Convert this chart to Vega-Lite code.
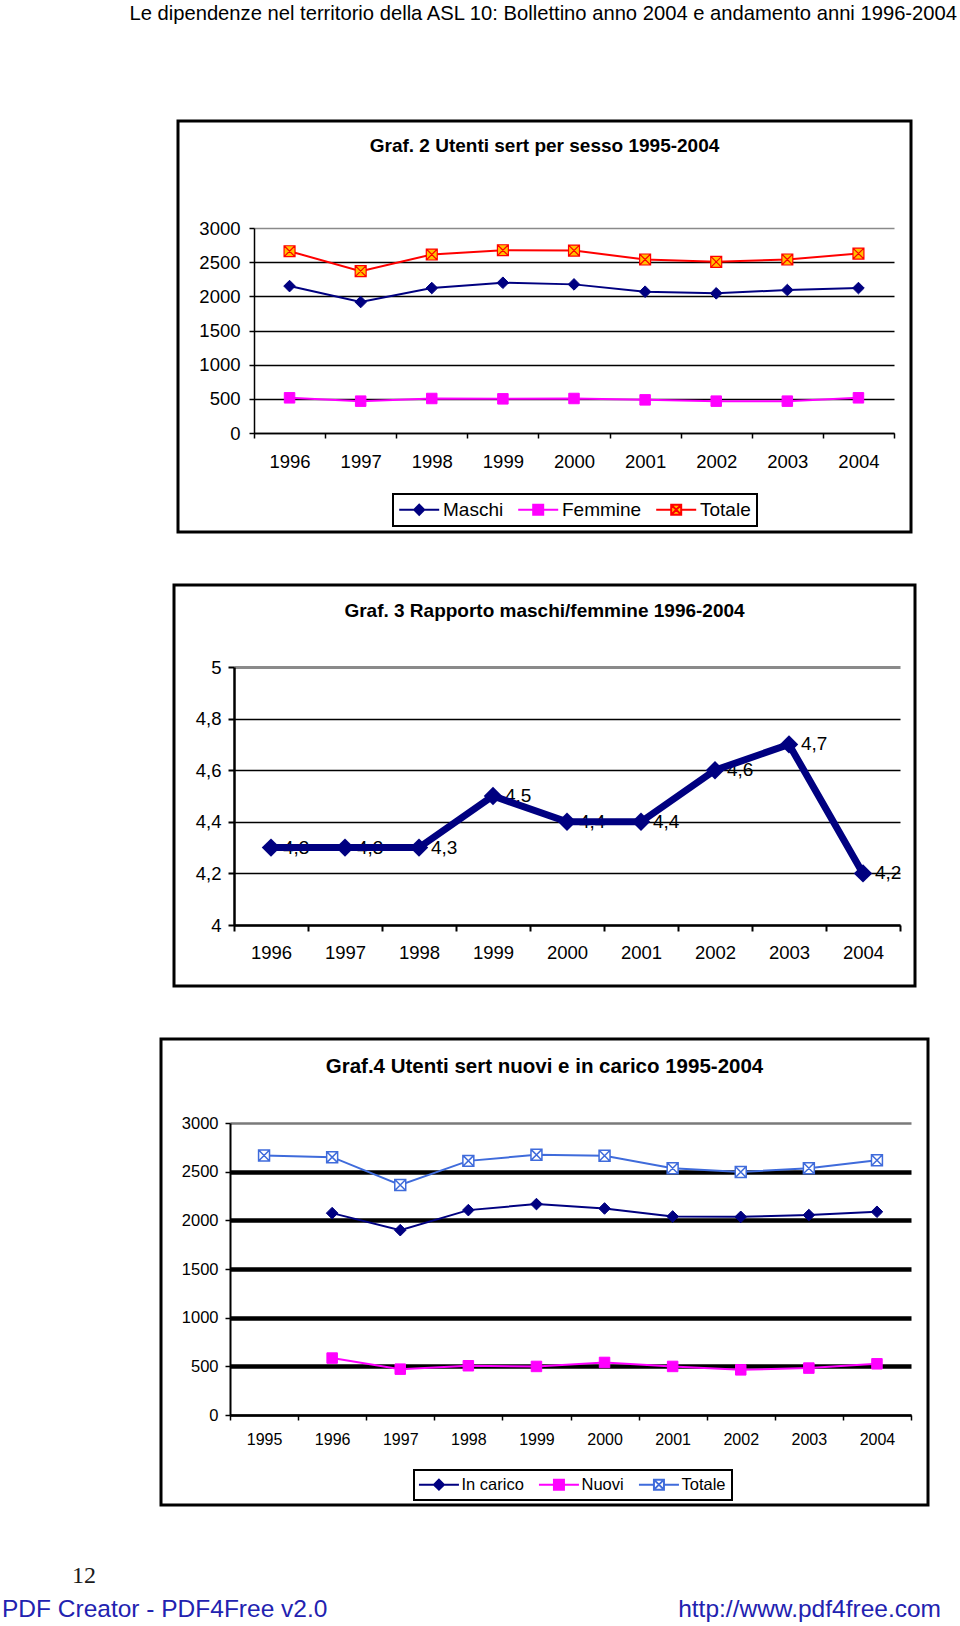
{
  "$schema": "https://vega.github.io/schema/vega-lite/v6.json",
  "autosize": {"type": "pad"},
  "padding": {"left": 2, "top": 0, "right": 0, "bottom": 0},
  "background": "white",
  "bounds": "flush",
  "center": true,
  "spacing": 53,
  "resolve": {"scale": {"stroke": "independent", "fill": "independent", "shape": "independent"}},
  "config": {
    "font": "Liberation Sans",
    "locale": {"number": {"decimal": ",", "thousands": ".", "grouping": [3], "currency": ["€", ""]}},
    "view": {"stroke": "black", "strokeWidth": 3},
    "title": {"fontWeight": "bold", "color": "black", "anchor": "middle", "font": "Liberation Sans"},
    "axis": {"domainColor": "black", "tickColor": "black", "labelColor": "black", "labelFont": "Liberation Sans", "labelAngle": 0},
    "legend": {"orient": "none", "direction": "horizontal", "columns": 3, "strokeColor": "black", "strokeWidth": 2, "fillColor": "white", "padding": 6, "symbolSize": 100, "symbolStrokeWidth": 2, "labelOffset": 25, "columnPadding": 10, "labelColor": "black", "labelFont": "Liberation Sans", "symbolOpacity": 1}
  },
  "vconcat": [
    {
      "width": 767, "height": 68,
      "view": {"stroke": null},
      "data": {"values": [{"testo": "Le dipendenze nel territorio della ASL 10: Bollettino anno 2004 e andamento anni 1996-2004", "lato": "destra", "riga": "intestazione"}]},
      "mark": {"type": "text", "align": "right", "baseline": "middle", "dx": 29, "dy": -3, "fontSize": 20.2, "color": "black"},
      "encoding": {
        "x": {"field": "lato", "type": "nominal", "scale": {"type": "point", "domain": ["sinistra", "destra"], "padding": 0}, "axis": null},
        "y": {"field": "riga", "type": "nominal", "scale": {"type": "point", "domain": ["intestazione", "spazio"], "padding": 0.5}, "axis": null},
        "text": {"field": "testo", "type": "nominal"}
      }
    },
    {
      "width": 733, "height": 411,
      "title": {"text": "Graf. 2 Utenti sert per sesso 1995-2004", "fontSize": 19, "offset": -35},
      "data": {"values": [
        {"anno": "1996", "serie": "Maschi", "valore": 2150},
        {"anno": "1997", "serie": "Maschi", "valore": 1917},
        {"anno": "1998", "serie": "Maschi", "valore": 2121},
        {"anno": "1999", "serie": "Maschi", "valore": 2199},
        {"anno": "2000", "serie": "Maschi", "valore": 2175},
        {"anno": "2001", "serie": "Maschi", "valore": 2068},
        {"anno": "2002", "serie": "Maschi", "valore": 2044},
        {"anno": "2003", "serie": "Maschi", "valore": 2092},
        {"anno": "2004", "serie": "Maschi", "valore": 2121},
        {"anno": "1996", "serie": "Femmine", "valore": 515},
        {"anno": "1997", "serie": "Femmine", "valore": 466},
        {"anno": "1998", "serie": "Femmine", "valore": 505},
        {"anno": "1999", "serie": "Femmine", "valore": 500},
        {"anno": "2000", "serie": "Femmine", "valore": 505},
        {"anno": "2001", "serie": "Femmine", "valore": 485},
        {"anno": "2002", "serie": "Femmine", "valore": 466},
        {"anno": "2003", "serie": "Femmine", "valore": 466},
        {"anno": "2004", "serie": "Femmine", "valore": 515},
        {"anno": "1996", "serie": "Totale", "valore": 2660},
        {"anno": "1997", "serie": "Totale", "valore": 2369},
        {"anno": "1998", "serie": "Totale", "valore": 2612},
        {"anno": "1999", "serie": "Totale", "valore": 2675},
        {"anno": "2000", "serie": "Totale", "valore": 2670},
        {"anno": "2001", "serie": "Totale", "valore": 2539},
        {"anno": "2002", "serie": "Totale", "valore": 2505},
        {"anno": "2003", "serie": "Totale", "valore": 2539},
        {"anno": "2004", "serie": "Totale", "valore": 2626}
      ]},
      "encoding": {
        "x": {"field": "anno", "type": "ordinal",
          "scale": {"type": "band", "range": [76, 716], "paddingInner": 0, "paddingOuter": 0},
          "axis": {"title": null, "offset": -99, "tickBand": "extent", "tickSize": 5, "tickWidth": 1.5, "domainWidth": 1.5, "labelPadding": 14, "labelFontSize": 18.5}},
        "y": {"field": "valore", "type": "quantitative",
          "scale": {"domain": [0, 3000], "range": [312, 107], "nice": false},
          "axis": {"title": null, "offset": -76, "values": [0, 500, 1000, 1500, 2000, 2500, 3000], "format": "d", "tickSize": 5, "tickWidth": 1.5, "domainWidth": 1.5, "labelPadding": 9, "labelFontSize": 18.5, "grid": true,
            "gridColor": {"condition": {"test": "datum.value === 3000", "value": "#8a8a8a"}, "value": "black"}, "gridWidth": 1.5}}
      },
      "layer": [
        {"mark": {"type": "line", "strokeWidth": 2},
          "encoding": {"stroke": {"field": "serie", "type": "nominal",
            "scale": {"domain": ["Maschi", "Femmine", "Totale"], "range": ["#000080", "#FF00FF", "#FF0000"]},
            "legend": {"title": null, "legendX": 215, "legendY": 373, "labelFontSize": 19}}}},
        {"mark": {"type": "point", "filled": true, "opacity": 0},
          "encoding": {
            "stroke": {"field": "serie", "type": "nominal",
              "scale": {"domain": ["Maschi", "Femmine", "Totale"], "range": ["#000080", "#FF00FF", "#FF0000"]},
              "legend": {"title": null, "legendX": 215, "legendY": 373, "labelFontSize": 19}},
            "fill": {"field": "serie", "type": "nominal",
              "scale": {"domain": ["Maschi", "Femmine", "Totale"], "range": ["#000080", "#FF00FF", "#FFC000"]},
              "legend": {"title": null, "legendX": 215, "legendY": 373, "labelFontSize": 19}},
            "shape": {"field": "serie", "type": "nominal",
              "scale": {"domain": ["Maschi", "Femmine", "Totale"], "range": [
                "M-1.86,0H1.14M3.14,0H6.14M2.14,-1L3.14,0L2.14,1L1.14,0Z",
                "M-1.86,0H1.14M3.14,0H6.14M1.14,-1H3.14V1H1.14Z",
                "M-1.86,0H1.14M3.14,0H6.14M1.14,-1H3.14V1H1.14ZM1.14,-1L3.14,1M3.14,-1L1.14,1"]},
              "legend": {"title": null, "legendX": 215, "legendY": 373, "labelFontSize": 19}}
          }},
        {"transform": [{"filter": "datum.serie === 'Maschi'"}],
          "mark": {"type": "point", "shape": "diamond", "filled": true, "size": 135, "fill": "#000080", "stroke": "#000080", "strokeWidth": 1, "opacity": 1}},
        {"transform": [{"filter": "datum.serie === 'Femmine'"}],
          "mark": {"type": "point", "shape": "square", "filled": true, "size": 110, "fill": "#FF00FF", "stroke": "#FF00FF", "strokeWidth": 1, "opacity": 1}},
        {"transform": [{"filter": "datum.serie === 'Totale'"}],
          "mark": {"type": "point", "shape": "M-1,-1H1V1H-1ZM-1,-1L1,1M1,-1L-1,1", "filled": true, "size": 120, "fill": "#FFC000", "stroke": "#FF0000", "strokeWidth": 1.2, "opacity": 1}},
        {"data": {"values": [{"anno": "2004"}]},
          "mark": {"type": "rule", "color": "#8a8a8a", "strokeWidth": 2},
          "encoding": {"x": {"field": "anno", "type": "ordinal", "bandPosition": 1}, "y": {"datum": 0}, "y2": {"datum": 3000}}}
      ]
    },
    {
      "width": 741, "height": 401,
      "title": {"text": "Graf. 3 Rapporto maschi/femmine 1996-2004", "fontSize": 19, "offset": -36},
      "data": {"values": [
        {"anno": "1996", "rapporto": 4.3},
        {"anno": "1997", "rapporto": 4.3},
        {"anno": "1998", "rapporto": 4.3},
        {"anno": "1999", "rapporto": 4.5},
        {"anno": "2000", "rapporto": 4.4},
        {"anno": "2001", "rapporto": 4.4},
        {"anno": "2002", "rapporto": 4.6},
        {"anno": "2003", "rapporto": 4.7},
        {"anno": "2004", "rapporto": 4.2}
      ]},
      "encoding": {
        "x": {"field": "anno", "type": "ordinal",
          "scale": {"type": "band", "range": [60, 726], "paddingInner": 0, "paddingOuter": 0},
          "axis": {"title": null, "offset": -61, "tickBand": "extent", "tickSize": 6, "tickWidth": 2, "domainWidth": 2.5, "labelPadding": 12.5, "labelFontSize": 18.5}},
        "y": {"field": "rapporto", "type": "quantitative",
          "scale": {"domain": [4, 5], "range": [340, 82], "nice": false, "zero": false},
          "axis": {"title": null, "offset": -60, "values": [4, 4.2, 4.4, 4.6, 4.8, 5], "format": "~g", "tickSize": 6, "tickWidth": 2, "domainWidth": 2.5, "labelPadding": 7, "labelFontSize": 18.5, "grid": true,
            "gridColor": {"condition": {"test": "datum.value === 5", "value": "#8a8a8a"}, "value": "black"},
            "gridWidth": {"condition": {"test": "datum.value === 5", "value": 3}, "value": 1.5}}}
      },
      "layer": [
        {"mark": {"type": "text", "align": "left", "baseline": "middle", "dx": 12, "fontSize": 19, "color": "black"},
          "encoding": {"text": {"field": "rapporto", "type": "quantitative", "format": ".1f"}}},
        {"mark": {"type": "line", "color": "#000080", "strokeWidth": 7}},
        {"mark": {"type": "point", "shape": "diamond", "filled": true, "size": 340, "color": "#000080", "opacity": 1}},
        {"data": {"values": [{"anno": "2004"}]},
          "mark": {"type": "rule", "color": "#8a8a8a", "strokeWidth": 3},
          "encoding": {"x": {"field": "anno", "type": "ordinal", "bandPosition": 1}, "y": {"datum": 4}, "y2": {"datum": 5}}}
      ]
    },
    {
      "width": 767, "height": 466,
      "title": {"text": "Graf.4 Utenti sert nuovi e in carico 1995-2004", "fontSize": 20.5, "offset": -38},
      "data": {"values": [
        {"anno": "1996", "serie": "In carico", "valore": 2074},
        {"anno": "1997", "serie": "In carico", "valore": 1899},
        {"anno": "1998", "serie": "In carico", "valore": 2105},
        {"anno": "1999", "serie": "In carico", "valore": 2167},
        {"anno": "2000", "serie": "In carico", "valore": 2122},
        {"anno": "2001", "serie": "In carico", "valore": 2040},
        {"anno": "2002", "serie": "In carico", "valore": 2036},
        {"anno": "2003", "serie": "In carico", "valore": 2054},
        {"anno": "2004", "serie": "In carico", "valore": 2088},
        {"anno": "1996", "serie": "Nuovi", "valore": 585},
        {"anno": "1997", "serie": "Nuovi", "valore": 471},
        {"anno": "1998", "serie": "Nuovi", "valore": 506},
        {"anno": "1999", "serie": "Nuovi", "valore": 499},
        {"anno": "2000", "serie": "Nuovi", "valore": 540},
        {"anno": "2001", "serie": "Nuovi", "valore": 499},
        {"anno": "2002", "serie": "Nuovi", "valore": 464},
        {"anno": "2003", "serie": "Nuovi", "valore": 482},
        {"anno": "2004", "serie": "Nuovi", "valore": 526},
        {"anno": "1995", "serie": "Totale", "valore": 2666},
        {"anno": "1996", "serie": "Totale", "valore": 2649},
        {"anno": "1997", "serie": "Totale", "valore": 2363},
        {"anno": "1998", "serie": "Totale", "valore": 2611},
        {"anno": "1999", "serie": "Totale", "valore": 2673},
        {"anno": "2000", "serie": "Totale", "valore": 2663},
        {"anno": "2001", "serie": "Totale", "valore": 2535},
        {"anno": "2002", "serie": "Totale", "valore": 2497},
        {"anno": "2003", "serie": "Totale", "valore": 2535},
        {"anno": "2004", "serie": "Totale", "valore": 2618}
      ]},
      "encoding": {
        "x": {"field": "anno", "type": "ordinal",
          "scale": {"type": "band", "domain": ["1995", "1996", "1997", "1998", "1999", "2000", "2001", "2002", "2003", "2004"], "range": [69, 750], "paddingInner": 0, "paddingOuter": 0},
          "axis": {"title": null, "offset": -90, "tickBand": "extent", "tickSize": 5, "tickWidth": 1.5, "domainWidth": 2, "labelPadding": 11, "labelFontSize": 16}},
        "y": {"field": "valore", "type": "quantitative",
          "scale": {"domain": [0, 3000], "range": [376, 84], "nice": false},
          "axis": {"title": null, "offset": -69, "values": [0, 500, 1000, 1500, 2000, 2500, 3000], "format": "d", "tickSize": 5, "tickWidth": 1.5, "domainWidth": 2, "labelPadding": 7, "labelFontSize": 16.5, "grid": true,
            "gridColor": {"condition": {"test": "datum.value === 3000", "value": "#7a7a7a"}, "value": "black"},
            "gridWidth": {"condition": {"test": "datum.value === 3000 || datum.value === 0", "value": 2.5}, "value": 4.5}}}
      },
      "layer": [
        {"mark": {"type": "line", "strokeWidth": 2},
          "encoding": {"stroke": {"field": "serie", "type": "nominal",
            "scale": {"domain": ["In carico", "Nuovi", "Totale"], "range": ["#000080", "#FF00FF", "#3F6BDB"]},
            "legend": {"title": null, "legendX": 253, "legendY": 431, "labelFontSize": 16.5}}}},
        {"mark": {"type": "point", "filled": true, "opacity": 0},
          "encoding": {
            "stroke": {"field": "serie", "type": "nominal",
              "scale": {"domain": ["In carico", "Nuovi", "Totale"], "range": ["#000080", "#FF00FF", "#3F6BDB"]},
              "legend": {"title": null, "legendX": 253, "legendY": 431, "labelFontSize": 16.5}},
            "fill": {"field": "serie", "type": "nominal",
              "scale": {"domain": ["In carico", "Nuovi", "Totale"], "range": ["#000080", "#FF00FF", "#FFFFFF"]},
              "legend": {"title": null, "legendX": 253, "legendY": 431, "labelFontSize": 16.5}},
            "shape": {"field": "serie", "type": "nominal",
              "scale": {"domain": ["In carico", "Nuovi", "Totale"], "range": [
                "M-1.86,0H1.14M3.14,0H6.14M2.14,-1L3.14,0L2.14,1L1.14,0Z",
                "M-1.86,0H1.14M3.14,0H6.14M1.14,-1H3.14V1H1.14Z",
                "M-1.86,0H1.14M3.14,0H6.14M1.14,-1H3.14V1H1.14ZM1.14,-1L3.14,1M3.14,-1L1.14,1"]},
              "legend": {"title": null, "legendX": 253, "legendY": 431, "labelFontSize": 16.5}}
          }},
        {"transform": [{"filter": "datum.serie === 'In carico'"}],
          "mark": {"type": "point", "shape": "diamond", "filled": true, "size": 135, "fill": "#000080", "stroke": "#000080", "strokeWidth": 1, "opacity": 1}},
        {"transform": [{"filter": "datum.serie === 'Nuovi'"}],
          "mark": {"type": "point", "shape": "square", "filled": true, "size": 110, "fill": "#FF00FF", "stroke": "#FF00FF", "strokeWidth": 1, "opacity": 1}},
        {"transform": [{"filter": "datum.serie === 'Totale'"}],
          "mark": {"type": "point", "shape": "M-1,-1H1V1H-1ZM-1,-1L1,1M1,-1L-1,1", "filled": true, "size": 120, "fill": "#FFFFFF", "stroke": "#3F6BDB", "strokeWidth": 1.5, "opacity": 1}},
        {"data": {"values": [{"anno": "2004"}]},
          "mark": {"type": "rule", "color": "#8a8a8a", "strokeWidth": 2},
          "encoding": {"x": {"field": "anno", "type": "ordinal", "bandPosition": 1}, "y": {"datum": 0}, "y2": {"datum": 3000}}}
      ]
    },
    {
      "width": 767, "height": 66,
      "view": {"stroke": null},
      "encoding": {
        "x": {"field": "lato", "type": "nominal", "scale": {"type": "point", "domain": ["sinistra", "destra"], "padding": 0}, "axis": null},
        "y": {"field": "riga", "type": "nominal", "scale": {"type": "point", "domain": ["pagina", "credito"], "padding": 0.5}, "axis": null},
        "text": {"field": "testo", "type": "nominal"}
      },
      "layer": [
        {"data": {"values": [{"testo": "12", "lato": "sinistra", "riga": "pagina"}]},
          "mark": {"type": "text", "align": "left", "baseline": "middle", "dx": -89, "dy": 1, "font": "Liberation Serif", "fontSize": 24, "color": "#1a1a1a"}},
        {"data": {"values": [{"testo": "PDF Creator - PDF4Free v2.0", "lato": "sinistra", "riga": "credito"}]},
          "mark": {"type": "text", "align": "left", "baseline": "middle", "dx": -159, "dy": 2, "fontSize": 24.5, "color": "#2222B0"}},
        {"data": {"values": [{"testo": "http://www.pdf4free.com", "lato": "destra", "riga": "credito"}]},
          "mark": {"type": "text", "align": "right", "baseline": "middle", "dx": 13, "dy": 2, "fontSize": 24.5, "color": "#2222B0"}}
      ]
    }
  ]
}
